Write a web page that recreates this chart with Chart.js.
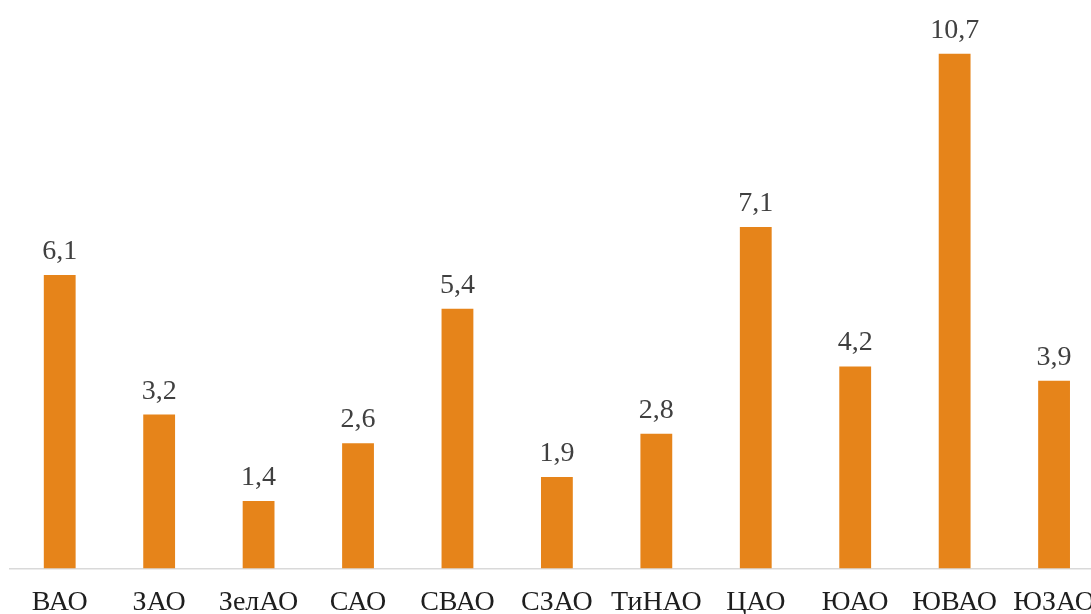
<!DOCTYPE html>
<html>
<head>
<meta charset="utf-8">
<script src="https://cdn.jsdelivr.net/npm/chart.js@4/dist/chart.umd.min.js"></script>
<style>
  html, body { margin: 0; padding: 0; background: #fff; overflow: hidden; }
  #wrap { width: 1091px; height: 614px; overflow: hidden; }
</style>
</head>
<body>
<div id="wrap"><canvas id="c" width="1104" height="628"></canvas></div>
<script>
const districts = ["ВАО", "ЗАО", "ЗелАО", "САО", "СВАО", "СЗАО", "ТиНАО", "ЦАО", "ЮАО", "ЮВАО", "ЮЗАО"];
const shares = [6.1, 3.2, 1.4, 2.6, 5.4, 1.9, 2.8, 7.1, 4.2, 10.7, 3.9];

const barColor = "#E6841A";
const valueColor = "#404040";
const axisTextColor = "#1E1E1E";
const serif = "'Liberation Serif', 'Times New Roman', serif";

// подписи значений над столбцами
const valueLabels = {
  id: "valueLabels",
  afterDatasetsDraw(chart) {
    const ctx = chart.ctx;
    const meta = chart.getDatasetMeta(0);
    ctx.save();
    ctx.font = "28px " + serif;
    ctx.fillStyle = valueColor;
    ctx.textAlign = "center";
    ctx.textBaseline = "alphabetic";
    meta.data.forEach((bar, i) => {
      const txt = shares[i].toString().replace(".", ",");
      ctx.fillText(txt, bar.x, bar.y - 16);
    });
    ctx.restore();
  }
};

new Chart(document.getElementById("c"), {
  type: "bar",
  data: {
    labels: districts,
    datasets: [{
      data: shares,
      backgroundColor: barColor,
      barPercentage: 0.32,
      categoryPercentage: 1
    }]
  },
  options: {
    responsive: false,
    animation: false,
    layout: { padding: { left: 10, right: 0, top: 0, bottom: 0 } },
    plugins: { legend: { display: false }, tooltip: { enabled: false } },
    scales: {
      x: {
        grid: { display: false },
        border: { color: "#D9D9D9", width: 1.5 },
        ticks: {
          color: axisTextColor,
          font: { family: serif, size: 28 },
          padding: 9,
          maxRotation: 0,
          autoSkip: false
        }
      },
      y: {
        display: false,
        min: 0,
        max: 11.82
      }
    }
  },
  plugins: [valueLabels]
});
</script>
</body>
</html>
